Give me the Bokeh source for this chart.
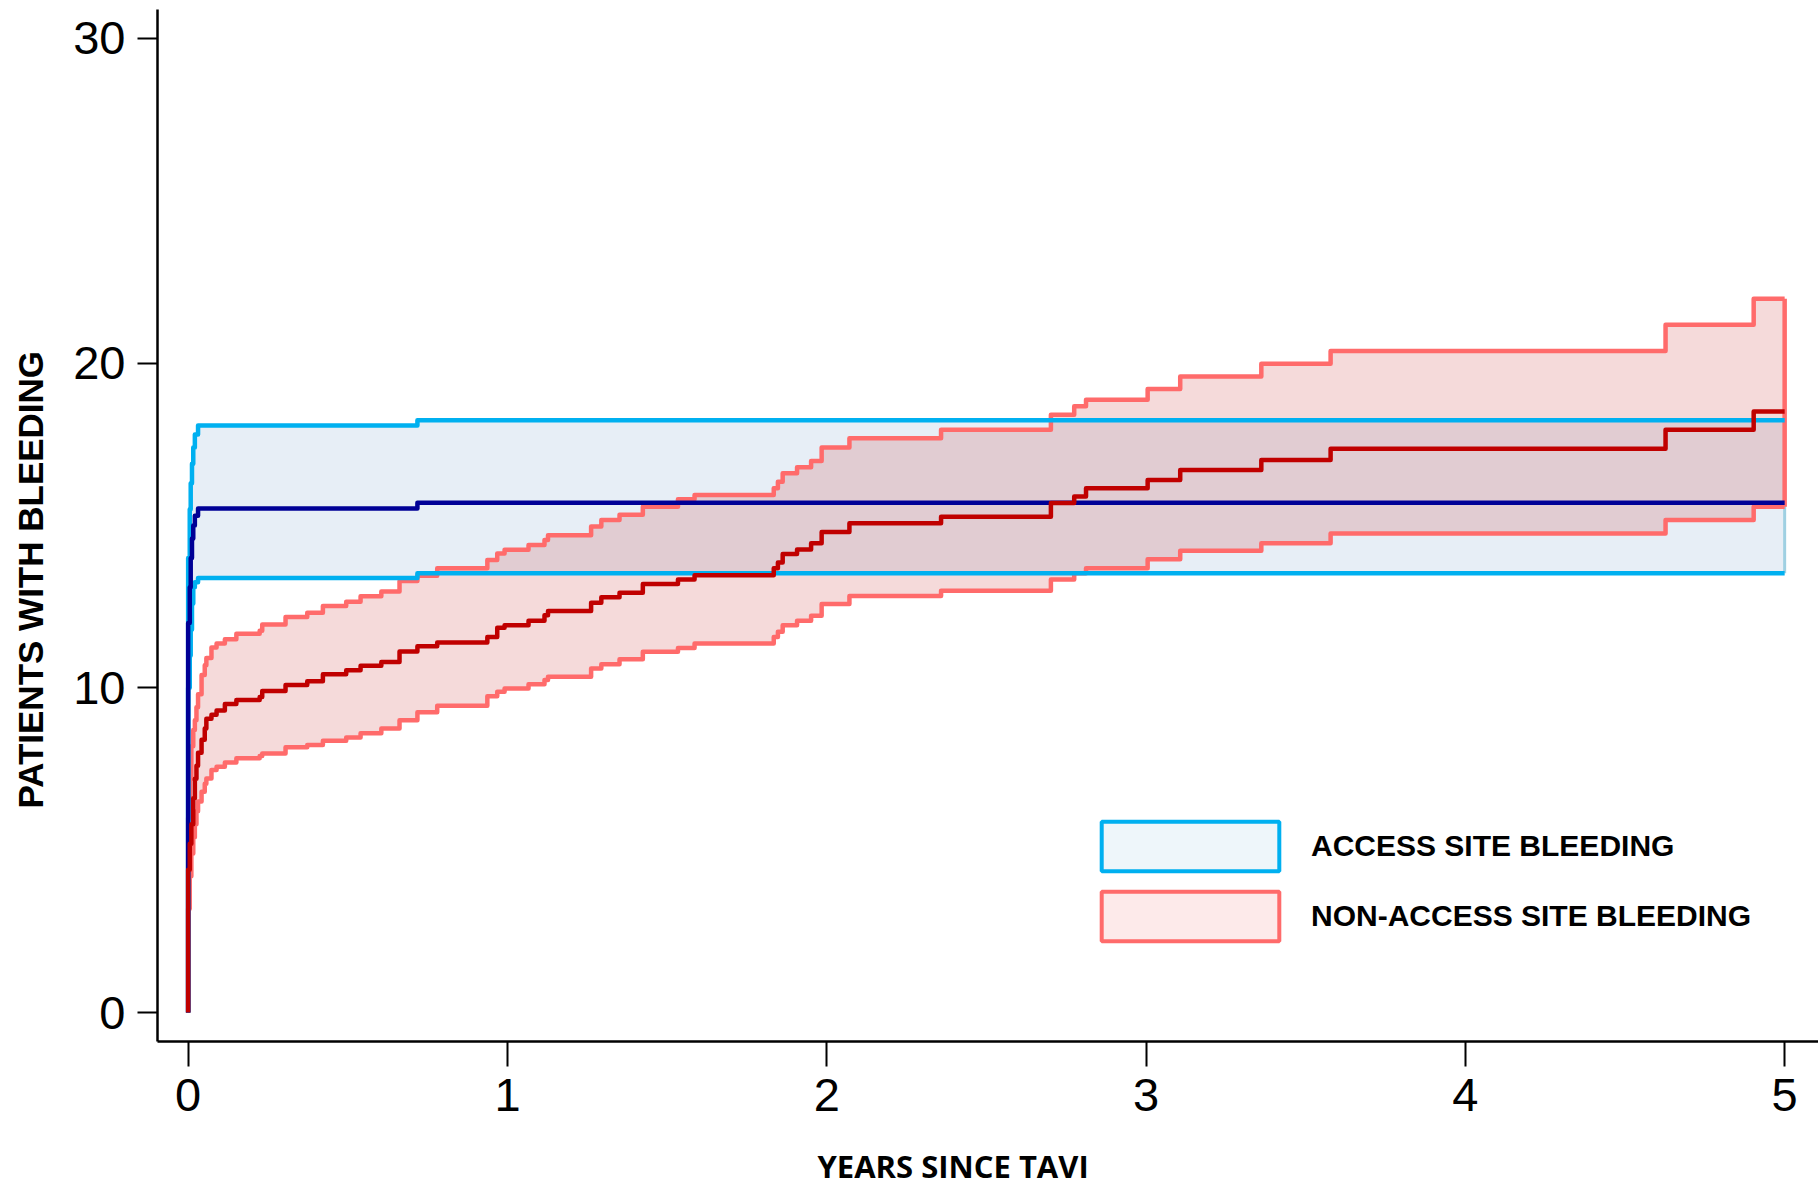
import numpy as np
from bokeh.plotting import figure
from bokeh.models import Range1d, Legend, LegendItem, ColumnDataSource, Title
from bokeh.embed import file_html
from bokeh.resources import INLINE

# ---------------- data ----------------
# Access site bleeding (cumulative incidence, %), step function ("after")
access_t = [0.000, 0.000, 0.005, 0.008, 0.012, 0.016, 0.021, 0.031, 0.718, 5.000]
access_mean = [0.0, 12.0, 13.1, 14.0, 14.6, 15.0, 15.3, 15.52, 15.70, 15.70]
access_upper = [0.0, 14.0, 15.5, 16.3, 16.9, 17.4, 17.8, 18.08, 18.24, 18.24]
access_lower = [0.0, 10.0, 11.0, 11.8, 12.6, 13.1, 13.25, 13.38, 13.53, 13.53]

# Non-access site bleeding
nonaccess_t = [0.000, 0.000, 0.005, 0.010, 0.016, 0.021, 0.026, 0.031, 0.042, 0.052,
               0.057, 0.073, 0.089, 0.115, 0.151, 0.224, 0.232, 0.305, 0.373, 0.422,
               0.495, 0.540, 0.605, 0.662, 0.718, 0.780, 0.937, 0.968, 0.991, 1.066,
               1.116, 1.127, 1.262, 1.294, 1.351, 1.424, 1.534, 1.586, 1.834, 1.847,
               1.862, 1.907, 1.951, 1.984, 2.071, 2.358, 2.702, 2.775, 2.812, 3.005,
               3.107, 3.361, 3.578, 4.627, 4.903, 5.000]
nonaccess_mean = [0.0, 4.4, 5.2, 5.8, 6.6, 7.2, 7.6, 8.0, 8.4, 8.75,
                  9.05, 9.17, 9.30, 9.50, 9.63, 9.72, 9.90, 10.09, 10.20, 10.42,
                  10.54, 10.68, 10.80, 11.12, 11.28, 11.40, 11.57, 11.85, 11.93, 12.07,
                  12.24, 12.37, 12.62, 12.79, 12.93, 13.20, 13.34, 13.47, 13.68, 13.86,
                  14.12, 14.26, 14.45, 14.80, 15.07, 15.27, 15.69, 15.89, 16.15, 16.40,
                  16.71, 17.02, 17.36, 17.95, 18.51, 18.51]
nonaccess_upper = [0.0, 6.0, 7.2, 8.2, 8.7, 9.0, 9.4, 9.8, 10.4, 10.7,
                   10.92, 11.24, 11.37, 11.50, 11.67, 11.76, 11.95, 12.18, 12.31, 12.52,
                   12.65, 12.82, 12.97, 13.29, 13.45, 13.68, 13.94, 14.14, 14.25, 14.40,
                   14.55, 14.70, 14.97, 15.17, 15.33, 15.58, 15.81, 15.94, 16.15, 16.35,
                   16.61, 16.79, 16.99, 17.40, 17.69, 17.95, 18.41, 18.67, 18.87, 19.20,
                   19.59, 19.98, 20.37, 21.18, 21.98, 21.98]
nonaccess_lower = [0.0, 3.2, 4.2, 4.9, 5.4, 5.8, 6.2, 6.5, 6.8, 7.05,
                   7.21, 7.47, 7.57, 7.70, 7.83, 7.90, 7.98, 8.17, 8.24, 8.37,
                   8.47, 8.60, 8.75, 9.00, 9.25, 9.45, 9.74, 9.88, 9.98, 10.11,
                   10.24, 10.34, 10.60, 10.73, 10.88, 11.11, 11.23, 11.37, 11.57, 11.73,
                   11.93, 12.07, 12.22, 12.58, 12.83, 12.99, 13.34, 13.53, 13.68, 13.96,
                   14.22, 14.45, 14.75, 15.17, 15.58, 15.58]

x_ticks = [0, 1, 2, 3, 4, 5]
y_ticks = [0, 10, 20, 30]
x_label = "YEARS SINCE TAVI"
y_label = "PATIENTS WITH BLEEDING"
series_labels = ["ACCESS SITE BLEEDING", "NON-ACCESS SITE BLEEDING"]

# ---------------- styles ----------------
CYAN = "#00b0f0"
NAVY = "#000096"
RED_CI = "#ff6b6b"
RED = "#c00000"
LW = 4.5


def step_xy(t, y):
    xs, ys = [t[0]], [y[0]]
    for i in range(1, len(t)):
        xs += [t[i], t[i]]
        ys += [y[i - 1], y[i]]
    return np.array(xs), np.array(ys)


def band(t, lo, hi):
    xu, yu = step_xy(t, hi)
    xl, yl = step_xy(t, lo)
    return np.concatenate([xu, xl[::-1]]), np.concatenate([yu, yl[::-1]])


p = figure(width=1818, height=1191, output_backend="svg", toolbar_location=None,
           x_range=Range1d(-0.096, 5.106), y_range=Range1d(-0.89, 30.89),
           min_border_left=157, min_border_right=0, min_border_top=9,
           min_border_bottom=150)
p.outline_line_color = None
p.xgrid.visible = False
p.ygrid.visible = False
p.background_fill_color = "white"
p.border_fill_color = "white"

# bands
bx, by = band(access_t, access_lower, access_upper)
p.patch(bx, by, fill_color="#e7eef6", fill_alpha=1.0, line_color=None)
rx, ry = band(nonaccess_t, nonaccess_lower, nonaccess_upper)
p.patch(rx, ry, fill_color="#cd4646", fill_alpha=0.2, line_color=None)

# closing edges at end of follow-up
p.segment(x0=[access_t[-1]], y0=[access_lower[-1]], x1=[access_t[-1]], y1=[access_upper[-1]],
          line_color="#9fd0e2", line_width=3)
p.segment(x0=[nonaccess_t[-1]], y0=[nonaccess_lower[-1]], x1=[nonaccess_t[-1]], y1=[nonaccess_upper[-1]],
          line_color=RED_CI, line_width=LW)

# CI lines
for yy in (nonaccess_upper, nonaccess_lower):
    p.step(nonaccess_t, yy, mode="after", line_color=RED_CI, line_width=LW, line_join="round")
for yy in (access_upper, access_lower):
    p.step(access_t, yy, mode="after", line_color=CYAN, line_width=LW, line_join="round")
# estimates
p.step(access_t, access_mean, mode="after", line_color=NAVY, line_width=LW, line_join="round")
p.step(nonaccess_t, nonaccess_mean, mode="after", line_color=RED, line_width=LW, line_join="round")

# legend (placeholder renderers without visible marks)
nan_src = ColumnDataSource(dict(l=[np.nan], r=[np.nan], b=[np.nan], t=[np.nan]))
lg1 = p.quad(left="l", right="r", bottom="b", top="t", source=nan_src,
             fill_color="#eef6fa", line_color=CYAN, line_width=4)
lg2 = p.quad(left="l", right="r", bottom="b", top="t", source=nan_src,
             fill_color="#fdeaea", line_color=RED_CI, line_width=4)
legend = Legend(items=[LegendItem(label=series_labels[0], renderers=[lg1], index=0),
                       LegendItem(label=series_labels[1], renderers=[lg2], index=0)],
                location=(922, 94), orientation="vertical",
                glyph_width=222, glyph_height=62, spacing=8, label_standoff=10,
                padding=0, margin=0, border_line_color=None, background_fill_alpha=0,
                label_text_font="Liberation Sans", label_text_font_style="bold",
                label_text_font_size="30px", label_text_color="black")
p.add_layout(legend)

# axes
for ax in (p.xaxis, p.yaxis):
    ax.axis_line_width = 2.5
    ax.axis_line_color = "black"
    ax.major_tick_line_width = 2
    ax.major_tick_line_color = "black"
    ax.major_tick_in = 0
    ax.minor_tick_line_color = None
    ax.major_label_text_font = "Liberation Sans"
    ax.major_label_text_font_size = "47px"
    ax.major_label_text_color = "black"
    ax.major_label_standoff = 12

p.xaxis.ticker = x_ticks
p.yaxis.ticker = y_ticks
p.xaxis.major_tick_out = 25
p.yaxis.major_tick_out = 20


def spacer(size):
    # blank title used only to reserve empty room in a side panel
    return Title(text=" ", standoff=size, text_font_size="1px", text_color="white")


# axis titles, separated from the tick labels by blank spacer panels
p.add_layout(spacer(35), "below")
p.add_layout(Title(text=x_label, align="left", offset=660, standoff=-16,
                   vertical_align="middle",
                   text_font="Open Sans", text_font_style="bold",
                   text_font_size="31px", text_color="black"), "below")
p.add_layout(spacer(17), "left")
p.add_layout(Title(text=y_label, align="left", offset=233, standoff=0,
                   vertical_align="middle",
                   text_font="Liberation Sans", text_font_style="bold",
                   text_font_size="35px", text_color="black"), "left")

open("out.html", "w").write(file_html(p, INLINE))
